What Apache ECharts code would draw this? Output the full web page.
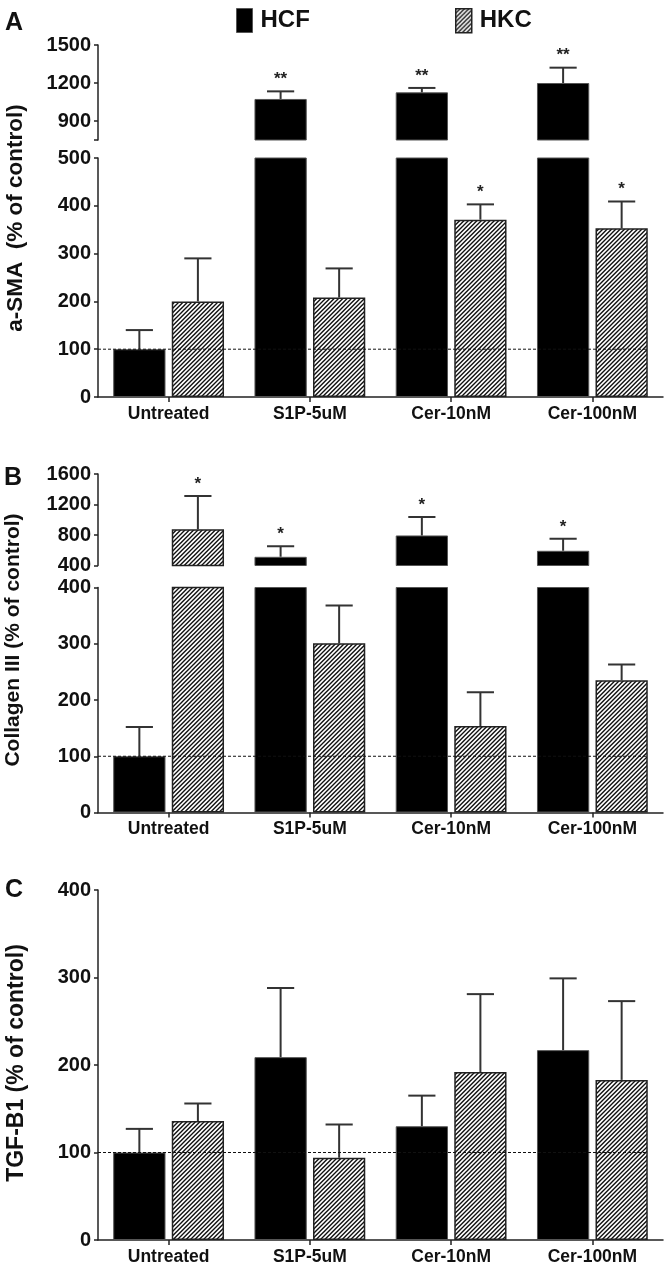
<!DOCTYPE html>
<html>
<head>
<meta charset="utf-8">
<script src="https://cdn.jsdelivr.net/npm/echarts@6/dist/echarts.min.js"></script>
<style>html,body{margin:0;padding:0;background:#fff}#c{width:667px;height:1266px}</style>
</head>
<body>
<div id="c"></div>
<script>
// ---- data ----
var categories = ['Untreated', 'S1P-5uM', 'Cer-10nM', 'Cer-100nM'];
var seriesNames = ['HCF', 'HKC'];
// Panel A: a-SMA
var smaHCF = [100, 1074, 1126, 1200];
var smaHCFsem = [40, 60, 35, 121];
var smaHCFsig = ['', '**', '**', '**'];
var smaHKC = [200, 208, 371, 353];
var smaHKCsem = [90, 61, 32, 56];
var smaHKCsig = ['', '', '*', '*'];
// Panel B: Collagen III
var colHCF = [100, 514, 794, 593];
var colHCFsem = [52, 140, 241, 157];
var colHCFsig = ['', '*', '*', '*'];
var colHKC = [877, 301, 154, 235];
var colHKCsem = [434, 67, 60, 28];
var colHKCsig = ['*', '', '', ''];
// Panel C: TGF-B1
var tgfHCF = [100, 209, 130, 217];
var tgfHCFsem = [27, 79, 35, 82];
var tgfHKC = [136, 94, 192, 183];
var tgfHKCsem = [20, 38, 89, 90];
// tick labels
var smaUpperTicks = [900, 1200, 1500];
var smaLowerTicks = [0, 100, 200, 300, 400, 500];
var colUpperTicks = [400, 800, 1200, 1600];
var colLowerTicks = [0, 100, 200, 300, 400];
var tgfTicks = [0, 100, 200, 300, 400];
var controlLevel = 100;

// ---- styling ----
var SANS = '"Liberation Sans", Arial, sans-serif';
var BAR_W = 0.37, BAR_GAP = 0.12;

function hatch() {
  var W = 13, p = W / 3;
  var c = document.createElement('canvas');
  c.width = W; c.height = W;
  var g = c.getContext('2d');
  g.fillStyle = '#fff'; g.fillRect(0, 0, W, W);
  g.strokeStyle = '#111'; g.lineWidth = 1.4;
  g.beginPath();
  for (var m = 0; m <= 7; m++) {
    var cc = m * p;
    g.moveTo(cc + 2, -2); g.lineTo(-2, cc + 2);
  }
  g.stroke();
  return { image: c, repeat: 'repeat' };
}
var HATCH = hatch();

var panels = [
  { grids: [{ top: 45, height: 95, min: 750, max: 1500, ticks: smaUpperTicks },
            { top: 158, height: 239, min: 0, max: 500, ticks: smaLowerTicks, xlabels: true }],
    hcf: smaHCF, hcfSem: smaHCFsem, hcfSig: smaHCFsig,
    hkc: smaHKC, hkcSem: smaHKCsem, hkcSig: smaHKCsig },
  { grids: [{ top: 474, height: 91.5, min: 400, max: 1600, ticks: colUpperTicks },
            { top: 587.5, height: 225, min: 0, max: 400, ticks: colLowerTicks, xlabels: true }],
    hcf: colHCF, hcfSem: colHCFsem, hcfSig: colHCFsig,
    hkc: colHKC, hkcSem: colHKCsem, hkcSig: colHKCsig },
  { grids: [{ top: 890, height: 352, min: 0, max: 400, ticks: tgfTicks, xlabels: true }],
    hcf: tgfHCF, hcfSem: tgfHCFsem, hcfSig: ['', '', '', ''],
    hkc: tgfHKC, hkcSem: tgfHKCsem, hkcSig: ['', '', '', ''] }
];

var grid = [], xAxis = [], yAxis = [], series = [];
var gi = 0;
panels.forEach(function (p) {
  p.grids.forEach(function (g) {
    grid.push({ left: 98, right: 4, top: g.top, height: g.height });
    xAxis.push({
      type: 'category', gridIndex: gi, data: categories,
      show: true,
      axisLine: { show: !!g.xlabels, lineStyle: { color: '#222', width: 1.5 } },
      axisTick: { show: !!g.xlabels, alignWithLabel: true, length: 5, lineStyle: { color: '#222', width: 1.5 } },
      axisLabel: { show: !!g.xlabels, margin: 8, fontFamily: SANS, fontWeight: 'bold', fontSize: 17.5, color: '#111' }
    });
    var tickVals = g.ticks.indexOf(g.min) < 0 ? [g.min].concat(g.ticks) : g.ticks;
    yAxis.push({
      type: 'value', gridIndex: gi, min: g.min, max: g.max,
      splitLine: { show: false },
      axisLine: { show: true, lineStyle: { color: '#222', width: 1.5 } },
      axisTick: { show: true, length: 4, customValues: tickVals, lineStyle: { color: '#222', width: 1.5 } },
      axisLabel: { margin: 7, customValues: g.ticks, fontFamily: SANS, fontWeight: 'bold', fontSize: 20, color: '#111',
        formatter: function (v) { return String(v); } }
    });

    series.push({
      name: 'HCF', type: 'bar', xAxisIndex: gi, yAxisIndex: gi,
      data: p.hcf, barWidth: (BAR_W * 100) + '%', barGap: (BAR_GAP * 100) + '%',
      itemStyle: { color: '#000', borderColor: '#555', borderWidth: 1 },
      clip: true, silent: true
    });
    series.push({
      name: 'HKC', type: 'bar', xAxisIndex: gi, yAxisIndex: gi,
      data: p.hkc, barWidth: (BAR_W * 100) + '%', barGap: (BAR_GAP * 100) + '%',
      itemStyle: { color: HATCH, borderColor: '#222', borderWidth: 1.5 },
      clip: true, silent: true
    });
    var edata = [], sigs = [];
    for (var i = 0; i < categories.length; i++) {
      edata.push([i, p.hcf[i], p.hcfSem[i], 0]); sigs.push(p.hcfSig[i]);
      edata.push([i, p.hkc[i], p.hkcSem[i], 1]); sigs.push(p.hkcSig[i]);
    }
    (function (sigs) {
      series.push({
        type: 'custom', xAxisIndex: gi, yAxisIndex: gi, clip: true, silent: true, z: 5,
        data: edata,
        renderItem: function (params, api) {
          var band = api.size([1, 0])[0];
          var bw = band * BAR_W, gap = bw * BAR_GAP;
          var off = (api.value(3) === 0 ? -1 : 1) * (bw + gap) / 2;
          var base = api.coord([api.value(0), api.value(1)]);
          var top = api.coord([api.value(0), api.value(1) + api.value(2)]);
          var x = base[0] + off, cw = bw * 0.26;
          var children = [
            { type: 'line', shape: { x1: x, y1: base[1], x2: x, y2: top[1] }, style: { stroke: '#333', lineWidth: 2 } },
            { type: 'line', shape: { x1: x - cw, y1: top[1], x2: x + cw, y2: top[1] }, style: { stroke: '#333', lineWidth: 2 } }
          ];
          var s = sigs[params.dataIndex];
          if (s) {
            children.push({ type: 'text', x: x, y: top[1] - 12,
              style: { text: s, fill: '#222', font: 'bold 17px ' + SANS, align: 'center', verticalAlign: 'middle' } });
          }
          return { type: 'group', children: children };
        }
      });
    })(sigs);
    series.push({
      type: 'custom', xAxisIndex: gi, yAxisIndex: gi, clip: true, silent: true, z: 6,
      data: [[0, controlLevel]],
      renderItem: function (params, api) {
        var band = api.size([1, 0])[0];
        var bw = band * BAR_W, gap = bw * BAR_GAP;
        var a = api.coord([0, api.value(1)]);
        var b = api.coord([categories.length - 1, api.value(1)]);
        return { type: 'line',
          shape: { x1: a[0] - band / 2, y1: a[1], x2: b[0] + (bw + gap) / 2 + bw / 2, y2: a[1] },
          style: { stroke: '#111', lineWidth: 1, lineDash: [3, 2] } };
      }
    });
    gi++;
  });
});

var legendCommon = {
  orient: 'horizontal', top: 3, itemWidth: 16, itemHeight: 24, selectedMode: false,
  icon: 'rect',
  textStyle: { fontFamily: SANS, fontWeight: 'bold', fontSize: 24, color: '#111', padding: [0, 0, 0, 3] }
};
var legend = [
  Object.assign({}, legendCommon, { left: 231, data: ['HCF'], itemStyle: { color: '#000', borderColor: '#555', borderWidth: 1 } }),
  Object.assign({}, legendCommon, { left: 450, data: ['HKC'], itemStyle: { color: HATCH, borderColor: '#222', borderWidth: 1.5 } })
];

function ytitle(text, x, y, size) {
  return { type: 'text', x: x, y: y, rotation: Math.PI / 2,
    style: { text: text, font: 'bold ' + size + 'px ' + SANS, fill: '#111', align: 'center', verticalAlign: 'middle' } };
}
function letter(text, x, y) {
  return { type: 'text', x: x, y: y,
    style: { text: text, font: 'bold 25px ' + SANS, fill: '#111', align: 'left', verticalAlign: 'top' } };
}

var chart = echarts.init(document.getElementById('c'), null, { renderer: 'canvas' });
chart.setOption({
  animation: false,
  backgroundColor: '#fff',
  grid: grid, xAxis: xAxis, yAxis: yAxis, series: series, legend: legend,
  graphic: [
    letter('A', 5, 11), letter('B', 4, 466), letter('C', 5, 878),
    ytitle('a-SMA  (% of control)', 16, 218, 22.5),
    ytitle('Collagen III (% of control)', 13, 640, 21),
    ytitle('TGF-B1 (% of control)', 17, 1063, 23)
  ]
});
</script>
</body>
</html>
